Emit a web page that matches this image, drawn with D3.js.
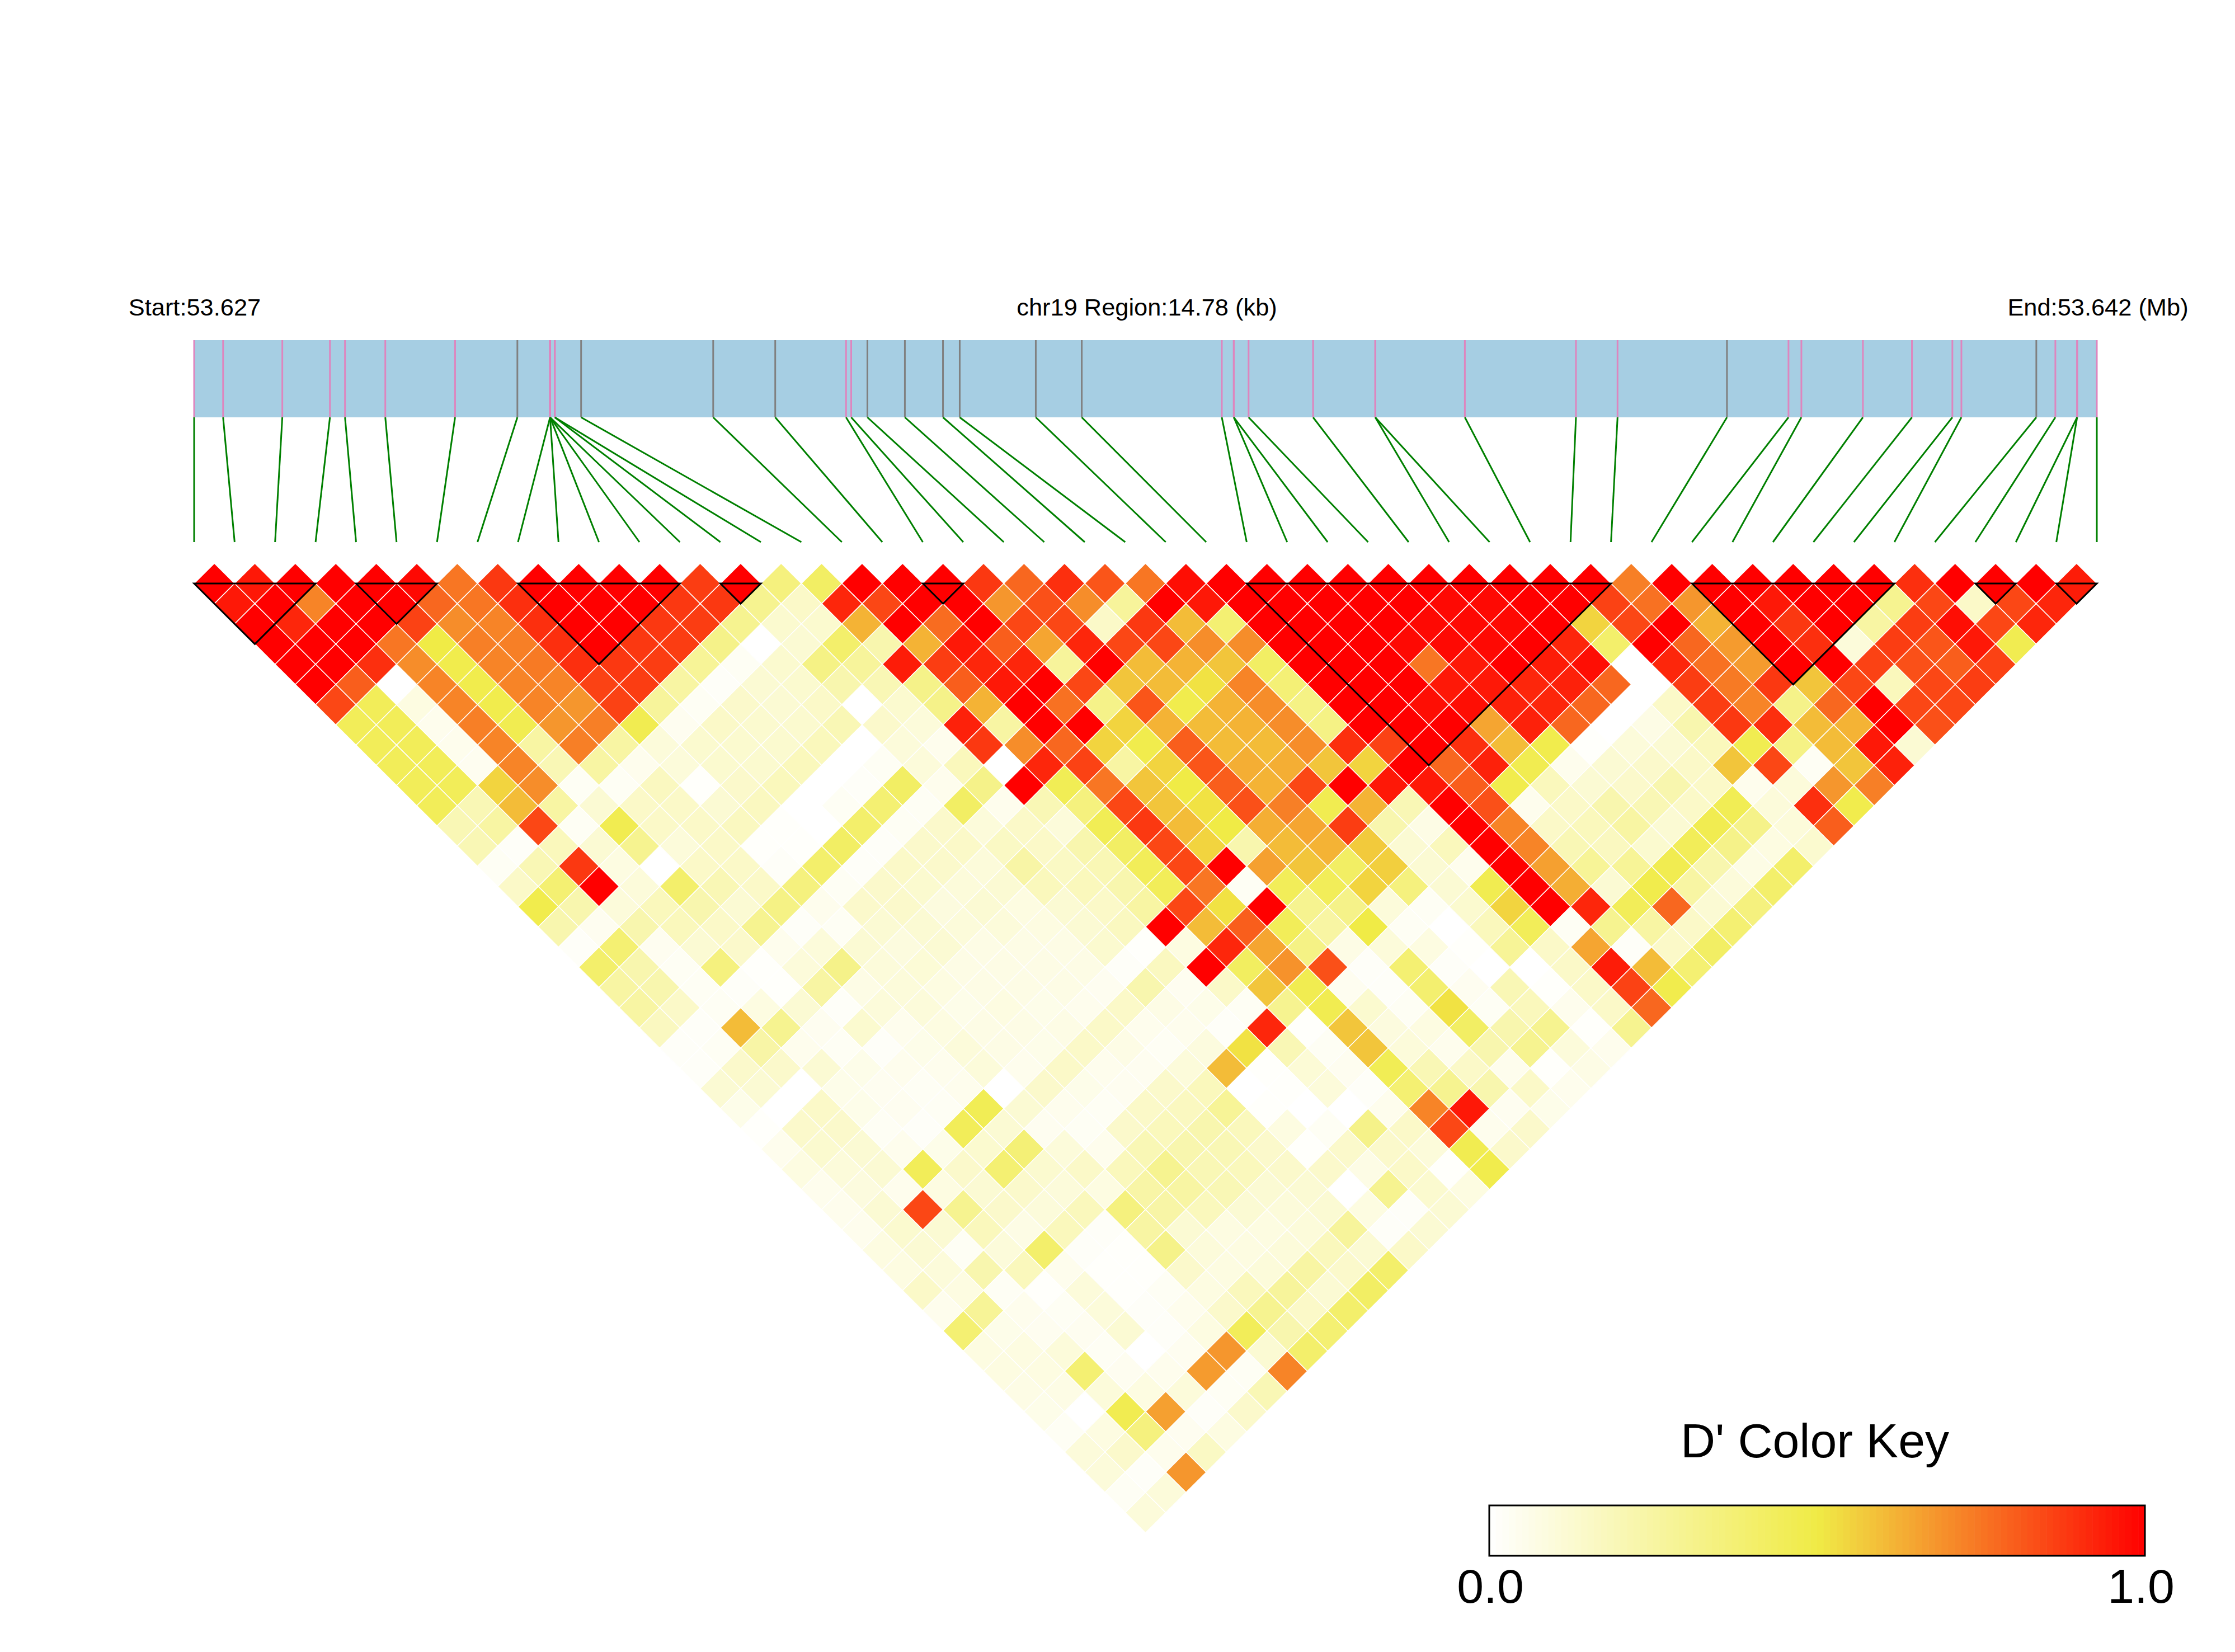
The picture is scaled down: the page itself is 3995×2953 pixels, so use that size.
<!DOCTYPE html>
<html><head><meta charset="utf-8">
<style>html,body{margin:0;padding:0;background:#fff}svg{display:block}text{font-family:"Liberation Sans",Arial,sans-serif;fill:#000}</style>
<script src="https://cdn.jsdelivr.net/npm/d3@7/dist/d3.min.js"></script>
</head><body><div id="chart"></div>
<script>
// SNP offsets from region start, bp
const snpPositions=[0,225,685,1055,1172,1485,2027,2511,2765,2765,2765,2765,2765,2802,2802,3006,4032,4514,5064,5104,5230,5521,5817,5947,6538,6895,7983,8076,8076,8191,8692,9175,9175,9871,10734,11057,11907,12385,12485,12963,13344,13658,13728,14310,14458,14627,14627,14780];
// SNP indices whose band tick is grey (others pink)
const greyTicks=[7,15,16,17,20,21,22,23,24,25,36,43];
// LD blocks [first SNP, last SNP]
const blocks=[[0,3],[4,6],[8,12],[13,14],[18,19],[26,35],[37,42],[44,45],[46,47]];
const titleStart="Start:53.627",titleMid="chr19 Region:14.78 (kb)",titleEnd="End:53.642 (Mb)";
const keyTitle="D' Color Key",keyLabels=["0.0","1.0"];
// D' x 100, one list per SNP-distance
const d01=[100,95,100,100,100,98,75,88,100,100,100,100,87,100,35,42,100,100,100,88,78,90,82,75,97,100,100,100,100,100,100,100,100,100,100,73,100,100,100,100,100,100,90,100,100,100,94];
const d02=[95,100,72,100,100,78,75,90,100,100,100,88,88,30,15,92,85,100,100,68,83,70,27,100,95,100,100,100,100,100,98,98,100,100,86,76,68,100,95,100,100,30,85,15,85,92];
const d03=[100,92,100,100,86,70,72,90,100,100,88,87,30,13,13,62,100,77,100,85,85,15,88,60,38,100,100,100,100,98,98,98,100,55,85,100,62,100,88,100,25,87,97,85,92];
const d04=[100,100,100,75,50,73,73,90,100,88,87,32,0,12,40,22,62,95,80,65,92,85,85,70,70,100,100,100,98,98,98,100,92,40,100,78,67,100,90,10,87,82,95,47];
const d05=[100,100,90,70,48,72,74,90,88,87,28,3,13,33,27,94,87,92,92,27,100,60,62,58,42,100,100,100,75,95,100,94,97,0,92,76,67,100,100,86,83,80,86];
const d06=[100,80,0,72,48,72,72,86,87,25,2,12,13,22,20,32,80,95,100,85,58,60,52,72,37,100,100,100,95,95,92,93,78,0,87,74,88,58,85,18,85,87];
const d07=[85,45,8,72,48,72,68,86,27,3,14,12,15,0,13,32,62,100,76,32,82,48,62,70,33,100,100,97,97,93,92,78,0,15,87,72,32,78,100,85,85];
const d08=[45,45,5,73,47,68,73,47,4,15,13,13,20,14,10,93,25,100,100,55,62,60,62,70,33,100,100,100,65,93,78,0,7,22,88,90,60,62,100,83];
const d09=[45,45,5,72,25,73,25,10,13,13,13,18,0,10,5,88,70,78,55,48,80,60,60,70,90,86,100,90,60,48,1,10,12,18,47,33,60,95,12];
const d10=[45,45,4,72,20,25,5,10,13,13,18,0,3,10,18,0,92,86,25,55,82,63,63,58,55,100,78,93,47,5,12,14,15,58,85,3,58,93];
const d11=[45,45,55,70,3,3,17,1,14,18,0,2,42,5,32,100,46,75,58,50,80,62,85,100,95,95,80,48,18,12,14,22,15,5,10,68,73];
const d12=[45,20,60,25,12,15,15,12,17,0,3,38,3,42,5,20,35,85,58,52,83,73,47,62,20,100,83,5,15,22,20,15,46,10,90,48];
const d13=[20,25,85,3,47,15,15,17,1,0,40,3,14,10,15,10,46,88,60,50,63,65,87,22,7,100,72,15,18,25,12,47,32,10,80];
const d14=[20,2,18,12,30,10,15,1,1,42,2,14,15,16,15,22,42,85,55,22,60,62,57,12,18,100,72,20,17,13,45,32,8,13];
const d15=[3,20,88,8,0,15,15,2,40,2,15,14,10,24,16,20,45,85,100,66,58,42,56,12,5,100,66,28,28,47,22,7,40];
const d16=[15,38,100,10,40,20,15,35,3,14,13,10,12,18,18,22,45,75,3,45,45,55,35,12,47,100,63,12,48,25,10,40];
const d17=[48,22,10,18,22,12,33,5,14,14,9,12,8,12,15,25,85,52,100,30,32,10,3,13,55,100,92,45,78,12,35];
const d18=[22,4,22,18,15,30,2,3,12,12,10,10,8,12,17,100,60,80,45,25,50,3,0,18,45,3,30,25,15,38];
const d19=[2,38,4,12,14,5,10,12,9,12,7,7,7,13,1,8,92,65,33,7,10,8,1,28,15,65,2,15,42];
const d20=[40,22,3,35,1,10,32,10,11,7,7,7,7,2,17,100,43,69,83,2,38,2,0,0,15,94,60,38];
const d21=[25,22,3,2,1,25,7,10,8,7,7,7,4,22,4,15,58,47,4,2,39,4,20,1,15,86,48];
const d22=[25,15,3,8,12,2,10,10,6,8,6,5,15,7,6,3,30,47,13,3,52,3,18,5,15,78];
const d23=[17,2,60,30,4,13,5,8,7,7,7,15,5,5,2,92,1,58,9,8,42,22,30,1,30];
const d24=[2,3,24,5,3,2,6,10,7,6,15,7,3,9,52,20,3,58,10,5,22,30,10,5];
const d25=[2,14,14,12,6,5,5,10,5,15,5,4,10,60,1,11,4,46,20,15,5,1,7];
const d26=[12,12,0,6,4,3,5,0,14,6,4,14,18,0,1,10,2,38,30,22,15,5];
const d27=[6,0,15,6,4,3,46,12,5,3,15,17,28,1,0,0,5,72,95,4,6];
const d28=[1,14,14,3,2,45,12,4,3,14,18,22,18,8,3,32,15,85,5,14];
const d29=[5,13,12,5,6,13,37,10,5,20,22,20,14,1,14,14,10,47,14];
const d30=[8,10,12,45,14,38,13,15,18,30,20,18,14,14,7,15,1,48];
const d31=[5,9,5,8,12,14,10,8,24,25,20,12,12,0,30,13,8];
const d32=[5,12,85,30,14,10,18,35,24,18,12,10,12,8,2,12];
const d33=[5,13,12,18,7,18,2,25,12,8,8,10,27,2,12];
const d34=[8,12,3,10,40,2,1,32,10,8,10,18,12,15];
const d35=[8,10,22,18,5,1,1,14,8,10,25,14,40];
const d36=[15,8,3,1,10,1,3,8,18,27,12,42];
const d37=[5,28,5,3,10,2,5,14,30,15,40];
const d38=[38,6,4,4,12,2,8,45,22,38];
const d39=[8,8,10,3,0,4,68,12,40];
const d40=[8,8,38,4,5,67,3,72];
const d41=[7,7,10,8,10,3,20];
const d42=[6,0,47,66,2,14];
const d43=[3,8,35,4,8];
const d44=[10,14,5,16];
const d45=[10,2,68];
const d46=[3,10];
const d47=[10];
const distances=[d01,d02,d03,d04,d05,d06,d07,d08,d09,d10,d11,d12,d13,d14,d15,d16,d17,d18,d19,d20,d21,d22,d23,d24,d25,d26,d27,d28,d29,d30,d31,d32,d33,d34,d35,d36,d37,d38,d39,d40,d41,d42,d43,d44,d45,d46,d47];

const W=3995,H=2953,n=snpPositions.length;
const svg=d3.select("#chart").append("svg").attr("width",W).attr("height",H).attr("viewBox",[0,0,W,H]);
svg.append("rect").attr("width",W).attr("height",H).attr("fill","#fff");

const color=d3.scaleLinear().domain([0,50,100]).range(["#FFFFFF","#F0EB46","#FF0000"]);
const genome=d3.scaleLinear().domain([0,14780]).range([347,3748]);
const snpX=d3.scaleLinear().domain([0,n-1]).range([347,3748]);
const rowY=d3.scaleLinear().domain([0,n-1]).range([1043,2740]); // half-step units of SNP distance

// titles
const font=(sel,s)=>sel.attr("font-size",s).attr("text-anchor","middle");
[[titleStart,348],[titleMid,2050],[titleEnd,3750]].forEach(([t,x])=>{
  svg.append("text").text(t).attr("x",x).attr("y",564).call(font,43.4);
});

// gene band
svg.append("rect").attr("x",genome(0)).attr("y",608).attr("width",genome(14780)-genome(0)).attr("height",138).attr("fill","#A6CEE3");
const snps=snpPositions.map((p,i)=>({p,i,grey:greyTicks.includes(i)}));
svg.append("g").selectAll("line").data(snps).join("line")
  .attr("x1",d=>genome(d.p)).attr("x2",d=>genome(d.p)).attr("y1",608).attr("y2",746)
  .attr("stroke",d=>d.grey?"#808080":"#DE85BE").attr("stroke-width",3);
svg.append("g").selectAll("line").data(snps).join("line")
  .attr("x1",d=>genome(d.p)).attr("x2",d=>snpX(d.i)).attr("y1",746).attr("y2",969)
  .attr("stroke","#008000").attr("stroke-width",3);

// LD cells
const cells=distances.flatMap((vals,k)=>vals.map((v,i)=>({i,j:i+k+1,v})));
const half=(snpX(1)-snpX(0))/2;
svg.append("g").selectAll("path").data(cells).join("path")
  .attr("d",c=>{
    const cx=(snpX(c.i)+snpX(c.j))/2, cy=rowY(c.j-c.i-1), hy=rowY(1)-rowY(0);
    return `M${cx},${cy-hy}L${cx+half},${cy}L${cx},${cy+hy}L${cx-half},${cy}Z`;
  })
  .attr("fill",c=>color(c.v)).attr("stroke","#fff").attr("stroke-width",1.5);

// blocks
svg.append("g").selectAll("path").data(blocks).join("path")
  .attr("d",([a,b])=>`M${snpX(a)},${rowY(0)}L${snpX(b)},${rowY(0)}L${(snpX(a)+snpX(b))/2},${rowY(b-a)}Z`)
  .attr("fill","none").attr("stroke","#000").attr("stroke-width",3);

// colour key
const keyX=d3.scaleLinear().domain([0,100]).range([2662,3834]);
svg.append("g").selectAll("rect").data(d3.range(100)).join("rect")
  .attr("x",d=>keyX(d)).attr("y",2691).attr("width",keyX(1)-keyX(0)+0.6).attr("height",90)
  .attr("fill",d=>color(d+0.5));
svg.append("rect").attr("x",2662).attr("y",2691).attr("width",1172).attr("height",90).attr("fill","none").attr("stroke","#000").attr("stroke-width",3);
svg.append("text").text(keyTitle).attr("x",3244).attr("y",2605).call(font,86);
svg.append("text").text(keyLabels[0]).attr("x",2664).attr("y",2865).call(font,86);
svg.append("text").text(keyLabels[1]).attr("x",3827).attr("y",2865).call(font,86);
</script></body></html>
